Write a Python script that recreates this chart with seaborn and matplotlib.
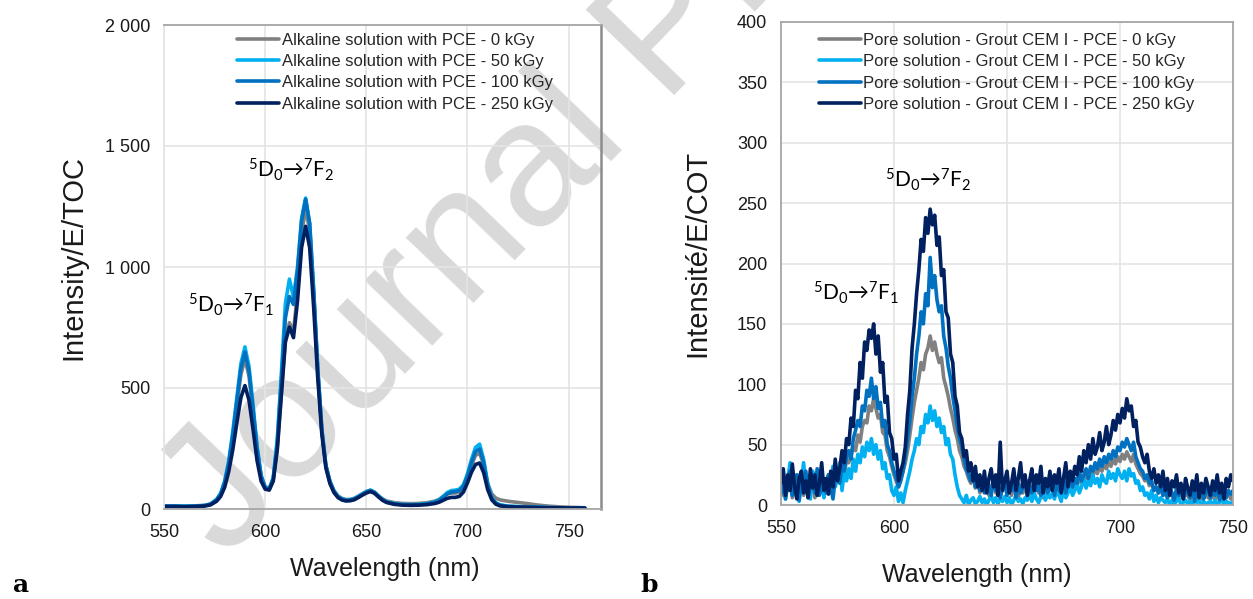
import numpy as np
import pandas as pd
import matplotlib
matplotlib.use("Agg")
import matplotlib.pyplot as plt
import seaborn as sns
from matplotlib.ticker import FuncFormatter, MultipleLocator

# ---------------- data: panel a ----------------
wl_a = [550, 555, 560, 565, 570, 573, 576, 578, 580, 582, 584, 586, 588, 590, 592, 594, 596, 598, 600, 602,
        604, 606, 608, 610, 612, 614, 616, 618, 620, 622, 624, 626, 628, 630, 632, 634, 636, 638, 640, 642,
        644, 646, 648, 650, 652, 654, 656, 658, 660, 664, 668, 672, 676, 680, 684, 686, 688, 690, 692, 694,
        696, 698, 700, 702, 704, 706, 708, 710, 712, 714, 716, 720, 725, 730, 735, 740, 745, 750, 755, 758]

a_0 = [13, 13, 12, 13, 15, 21, 38, 60, 105, 185, 295, 425, 555, 620, 550, 400, 245, 135, 92, 86,
       125, 255, 480, 700, 770, 730, 900, 1140, 1240, 1150, 880, 570, 325, 180, 115, 76, 54, 44, 39, 40,
       44, 53, 63, 72, 77, 70, 55, 42, 33, 26, 23, 22, 23, 26, 33, 40, 52, 62, 66, 66,
       70, 88, 128, 180, 222, 230, 185, 105, 62, 45, 38, 32, 27, 22, 16, 12, 9, 7, 6, 5]
a_50 = [12, 12, 11, 12, 14, 20, 40, 65, 115, 200, 320, 460, 600, 670, 590, 430, 260, 140, 88, 82,
        130, 290, 560, 850, 950, 875, 1000, 1200, 1285, 1180, 900, 580, 330, 180, 115, 75, 52, 42, 37, 38,
        42, 52, 62, 72, 78, 70, 54, 40, 30, 22, 19, 18, 19, 22, 30, 38, 52, 68, 76, 78,
        82, 100, 145, 205, 255, 268, 205, 105, 48, 26, 17, 12, 10, 8, 7, 6, 5, 5, 4, 4]
a_100 = [12, 12, 11, 12, 14, 20, 38, 62, 110, 190, 305, 445, 580, 648, 570, 415, 250, 135, 88, 80,
         125, 275, 530, 790, 878, 845, 985, 1190, 1280, 1180, 900, 580, 330, 180, 112, 72, 50, 40, 36, 37,
         41, 50, 60, 70, 76, 68, 52, 38, 29, 21, 18, 17, 18, 21, 28, 35, 48, 62, 70, 72,
         76, 94, 136, 192, 238, 248, 192, 98, 45, 24, 16, 11, 9, 8, 7, 6, 5, 5, 4, 4]
a_250 = [10, 10, 9, 10, 12, 17, 32, 52, 90, 155, 245, 355, 460, 510, 450, 330, 200, 115, 82, 78,
         115, 245, 470, 690, 752, 708, 860, 1080, 1168, 1080, 830, 540, 310, 170, 105, 68, 47, 37, 33, 34,
         38, 47, 57, 66, 72, 65, 50, 36, 27, 19, 16, 15, 16, 18, 23, 28, 36, 44, 48, 48,
         52, 70, 108, 152, 184, 190, 150, 80, 38, 20, 13, 9, 8, 7, 6, 5, 5, 4, 4, 4]

labels_a = ["Alkaline solution with PCE - 0 kGy", "Alkaline solution with PCE - 50 kGy",
            "Alkaline solution with PCE - 100 kGy", "Alkaline solution with PCE - 250 kGy"]

# ---------------- data: panel b (1 nm steps, 550-750) ----------------
wl_b = list(range(550, 751))

b_0 = [15, 8, 20, 12, 25, 6, 18, 10, 22, 14,
       8, 16, 24, 10, 18, 6, 20, 12, 26, 15,
       20, 12, 25, 18, 30, 22, 28, 32, 25, 38,
       35, 42, 48, 45, 58, 52, 65, 70, 68, 82,
       78, 88, 80, 72, 75, 60, 58, 45, 40, 32,
       25, 20, 15, 22, 28, 35, 45, 58, 72, 85,
       95, 105, 118, 112, 125, 130, 140, 128, 135, 125,
       118, 122, 105, 98, 90, 80, 72, 62, 55, 45,
       40, 32, 28, 22, 18, 25, 14, 20, 10, 16,
       12, 18, 8, 15, 20, 10, 16, 6, 14, 18,
       10, 15, 8, 18, 12, 6, 16, 10, 14, 20,
       8, 15, 12, 18, 10, 14, 6, 16, 12, 18,
       14, 10, 18, 8, 15, 20, 12, 16, 22, 14,
       20, 15, 24, 18, 22, 26, 20, 28, 24, 30,
       26, 32, 28, 34, 30, 36, 32, 38, 34, 40,
       36, 42, 38, 44, 40, 36, 42, 34, 30, 26,
       24, 20, 22, 16, 18, 12, 15, 10, 14, 8,
       10, 6, 12, 8, 4, 10, 6, 12, 5, 9,
       8, 4, 10, 6, 3, 9, 5, 8, 12, 6,
       5, 9, 4, 10, 6, 8, 3, 7, 10, 5,
       8]
b_50 = [12, 28, 5, 20, 35, 8, 15, 25, 3, 18,
        35, 10, 22, 5, 28, 15, 8, 20, 30, 6,
        18, 25, 10, 32, 15, 22, 35, 12, 28, 20,
        30, 22, 38, 28, 42, 35, 48, 40, 52, 45,
        55, 42, 50, 38, 45, 30, 35, 22, 25, 12,
        8, 15, 3, 10, 2, 12, 20, 28, 38, 45,
        55, 50, 65, 60, 75, 68, 82, 70, 78, 65,
        72, 60, 65, 50, 55, 42, 38, 25, 15, 8,
        5, 2, 8, 0, 4, 6, 1, 3, 7, 2,
        5, 0, 4, 8, 2, 6, 1, 5, 3, 7,
        2, 6, 0, 4, 8, 3, 5, 1, 6, 4,
        8, 3, 10, 5, 2, 7, 12, 4, 9, 6,
        10, 5, 12, 8, 3, 14, 6, 10, 15, 8,
        12, 18, 10, 15, 22, 14, 20, 16, 25, 18,
        22, 15, 25, 20, 18, 28, 22, 26, 20, 30,
        25, 22, 28, 20, 30, 24, 26, 18, 20, 12,
        15, 8, 10, 5, 12, 3, 8, 2, 6, 4,
        2, 5, 0, 4, 1, 3, 6, 0, 2, 4,
        1, 3, 0, 5, 2, 4, 0, 3, 1, 2,
        3, 0, 4, 1, 2, 5, 0, 3, 2, 1,
        3]
b_100 = [10, 22, 5, 18, 28, 8, 15, 25, 4, 20,
         12, 28, 6, 18, 22, 10, 30, 8, 15, 20,
         10, 25, 15, 5, 22, 30, 18, 35, 28, 40,
         45, 38, 55, 62, 70, 65, 82, 78, 95, 90,
         105, 88, 98, 80, 85, 65, 70, 50, 45, 35,
         28, 22, 15, 20, 28, 40, 55, 70, 90, 105,
         125, 140, 160, 150, 175, 165, 205, 180, 190, 170,
         160, 165, 140, 130, 115, 105, 90, 78, 65, 55,
         48, 38, 30, 25, 20, 28, 15, 22, 12, 18,
         10, 20, 14, 8, 22, 12, 18, 6, 15, 20,
         8, 16, 12, 22, 6, 18, 10, 14, 20, 8,
         15, 10, 22, 12, 18, 8, 16, 20, 10, 14,
         18, 8, 20, 12, 16, 22, 10, 18, 25, 15,
         22, 18, 28, 20, 25, 30, 22, 32, 28, 35,
         30, 38, 32, 40, 35, 42, 38, 45, 40, 48,
         45, 52, 48, 55, 50, 45, 52, 40, 35, 30,
         28, 22, 25, 18, 20, 12, 15, 10, 18, 8,
         12, 6, 15, 10, 4, 14, 8, 12, 5, 16,
         10, 6, 14, 3, 12, 8, 16, 5, 10, 14,
         6, 12, 8, 15, 4, 10, 14, 6, 12, 9,
         12]
b_250 = [18, 30, 8, 25, 12, 34, 15, 5, 22, 28,
         10, 20, 6, 30, 14, 25, 8, 18, 35, 12,
         22, 9, 28, 15, 38, 20, 30, 45, 35, 55,
         50, 72, 65, 95, 88, 118, 105, 135, 128, 145,
         138, 150, 125, 140, 110, 118, 85, 90, 60, 55,
         38, 42, 20, 28, 35, 48, 75, 95, 130, 150,
         175, 195, 220, 210, 238, 225, 245, 232, 240, 215,
         222, 190, 195, 160, 155, 125, 118, 90, 82, 60,
         55, 40, 45, 28, 35, 20, 32, 15, 25, 12,
         28, 10, 22, 30, 15, 25, 8, 52, 12, 20,
         28, 10, 18, 30, 12, 22, 35, 15, 25, 8,
         20, 30, 12, 25, 18, 32, 10, 22, 15, 28,
         12, 25, 18, 30, 10, 22, 35, 15, 28, 20,
         32, 25, 40, 28, 45, 35, 50, 38, 55, 42,
         48, 60, 45, 52, 65, 50, 58, 70, 62, 75,
         68, 80, 72, 88, 78, 82, 65, 70, 52, 48,
         40, 35, 42, 28, 22, 30, 18, 25, 15, 28,
         12, 22, 8, 20, 15, 25, 10, 18, 5, 22,
         14, 8, 20, 12, 25, 6, 18, 10, 22, 15,
         8, 20, 12, 25, 10, 18, 5, 22, 15, 25,
         20]

labels_b = ["Pore solution - Grout CEM I - PCE - 0 kGy", "Pore solution - Grout CEM I - PCE - 50 kGy",
            "Pore solution - Grout CEM I - PCE - 100 kGy", "Pore solution - Grout CEM I - PCE - 250 kGy"]

colors = ["#808080", "#00B0F0", "#0070C0", "#002060"]

# ---------------- style ----------------
sns.set_theme(style="white")
plt.rcParams["font.family"] = ["Liberation Sans", "DejaVu Sans"]
plt.rcParams["mathtext.fontset"] = "custom"
plt.rcParams["mathtext.rm"] = "Lato"
plt.rcParams["mathtext.it"] = "Lato:italic"
plt.rcParams["mathtext.bf"] = "Lato:bold"

W, H = 1253, 599
fig = plt.figure(figsize=(W / 100, H / 100), dpi=100)
fig.patch.set_facecolor("white")

axa = fig.add_axes([164 / W, 1 - 509 / H, 437 / W, 484 / H])
axb = fig.add_axes([781 / W, 1 - 505 / H, 452 / W, 483 / H])

df_a = pd.concat([pd.DataFrame({"wl": wl_a, "val": v, "series": lab})
                  for v, lab in zip([a_0, a_50, a_100, a_250], labels_a)], ignore_index=True)
df_b = pd.concat([pd.DataFrame({"wl": wl_b, "val": v, "series": lab})
                  for v, lab in zip([b_0, b_50, b_100, b_250], labels_b)], ignore_index=True)

sns.lineplot(data=df_a, x="wl", y="val", hue="series", hue_order=labels_a,
             palette=colors, estimator=None, sort=False, lw=2.6, ax=axa)
sns.lineplot(data=df_b, x="wl", y="val", hue="series", hue_order=labels_b,
             palette=colors, estimator=None, sort=False, lw=2.6, ax=axb)

txt = "#1a1a1a"
for ax in (axa, axb):
    ax.set_zorder(2)
    ax.set_facecolor("none")
    ax.grid(True, color="#E4E4E4", lw=1.2)
    ax.set_axisbelow(True)
    ax.tick_params(axis="both", length=0, labelsize=13, colors=txt)
    ax.tick_params(axis="y", pad=10)
    ax.tick_params(axis="x", pad=11)
    for s in ax.spines.values():
        s.set_visible(True)
        s.set_color("#A6A6A6")
        s.set_linewidth(1.3)

axa.spines["left"].set_color("#E4E4E4")
axa.spines["right"].set_color("#8C8C8C")
axa.spines["right"].set_linewidth(1.8)

axa.set_xlim(550, 766)
axa.set_ylim(0, 2000)
axa.xaxis.set_major_locator(MultipleLocator(50))
axa.yaxis.set_major_locator(MultipleLocator(500))
axa.yaxis.set_major_formatter(FuncFormatter(lambda v, p: f"{int(v):,}".replace(",", " ")))

axb.set_xlim(550, 750)
axb.set_ylim(0, 400)
axb.xaxis.set_major_locator(MultipleLocator(50))
axb.yaxis.set_major_locator(MultipleLocator(50))

axa.set_xlabel("Wavelength (nm)", fontsize=18, color=txt)
axa.set_ylabel("Intensity/E/TOC", fontsize=21, color=txt)
axb.set_xlabel("Wavelength (nm)", fontsize=18, color=txt)
axb.set_ylabel("Intensité/E/COT", fontsize=21, color=txt)
axa.xaxis.set_label_coords(0.506, -0.10)
axb.xaxis.set_label_coords(0.434, -0.12)
axa.yaxis.set_label_coords(-0.175, 0.52)
axb.yaxis.set_label_coords(-0.155, 0.52)

axa.legend(loc="upper left", bbox_to_anchor=(0.145, 1.005), frameon=False, fontsize=12,
           handlelength=2.5, handletextpad=0.15, labelspacing=0.38, borderaxespad=0.2)
axb.legend(loc="upper left", bbox_to_anchor=(0.062, 0.998), frameon=False, fontsize=12,
           handlelength=2.5, handletextpad=0.15, labelspacing=0.38, borderaxespad=0.2)

ann_kw = dict(fontsize=15, color="black", ha="center", va="center", family=["Lato", "DejaVu Sans"])
axa.text(613, 1400, r"$\mathrm{^5D_0}$→$\mathrm{^7F_2}$", **ann_kw)
axa.text(583, 843, r"$\mathrm{^5D_0}$→$\mathrm{^7F_1}$", **ann_kw)
axb.text(615, 269, r"$\mathrm{^5D_0}$→$\mathrm{^7F_2}$", **ann_kw)
axb.text(583, 176, r"$\mathrm{^5D_0}$→$\mathrm{^7F_1}$", **ann_kw)

fig.text(13 / W, 1 - 592 / H, "a", fontsize=18, fontweight="bold", family="DejaVu Serif",
         ha="left", va="baseline", color="black")
fig.text(640 / W, 1 - 592 / H, "b", fontsize=18, fontweight="bold", family="DejaVu Serif",
         ha="left", va="baseline", color="black")

# watermark
fig.text(225 / W, 1 - 560 / H, "Journal Pre-proof", fontsize=128, color="#D9D9D9",
         rotation=46, rotation_mode="anchor", ha="left", va="baseline", zorder=1,
         family="Liberation Sans")

fig.savefig("out.png", dpi=100)
